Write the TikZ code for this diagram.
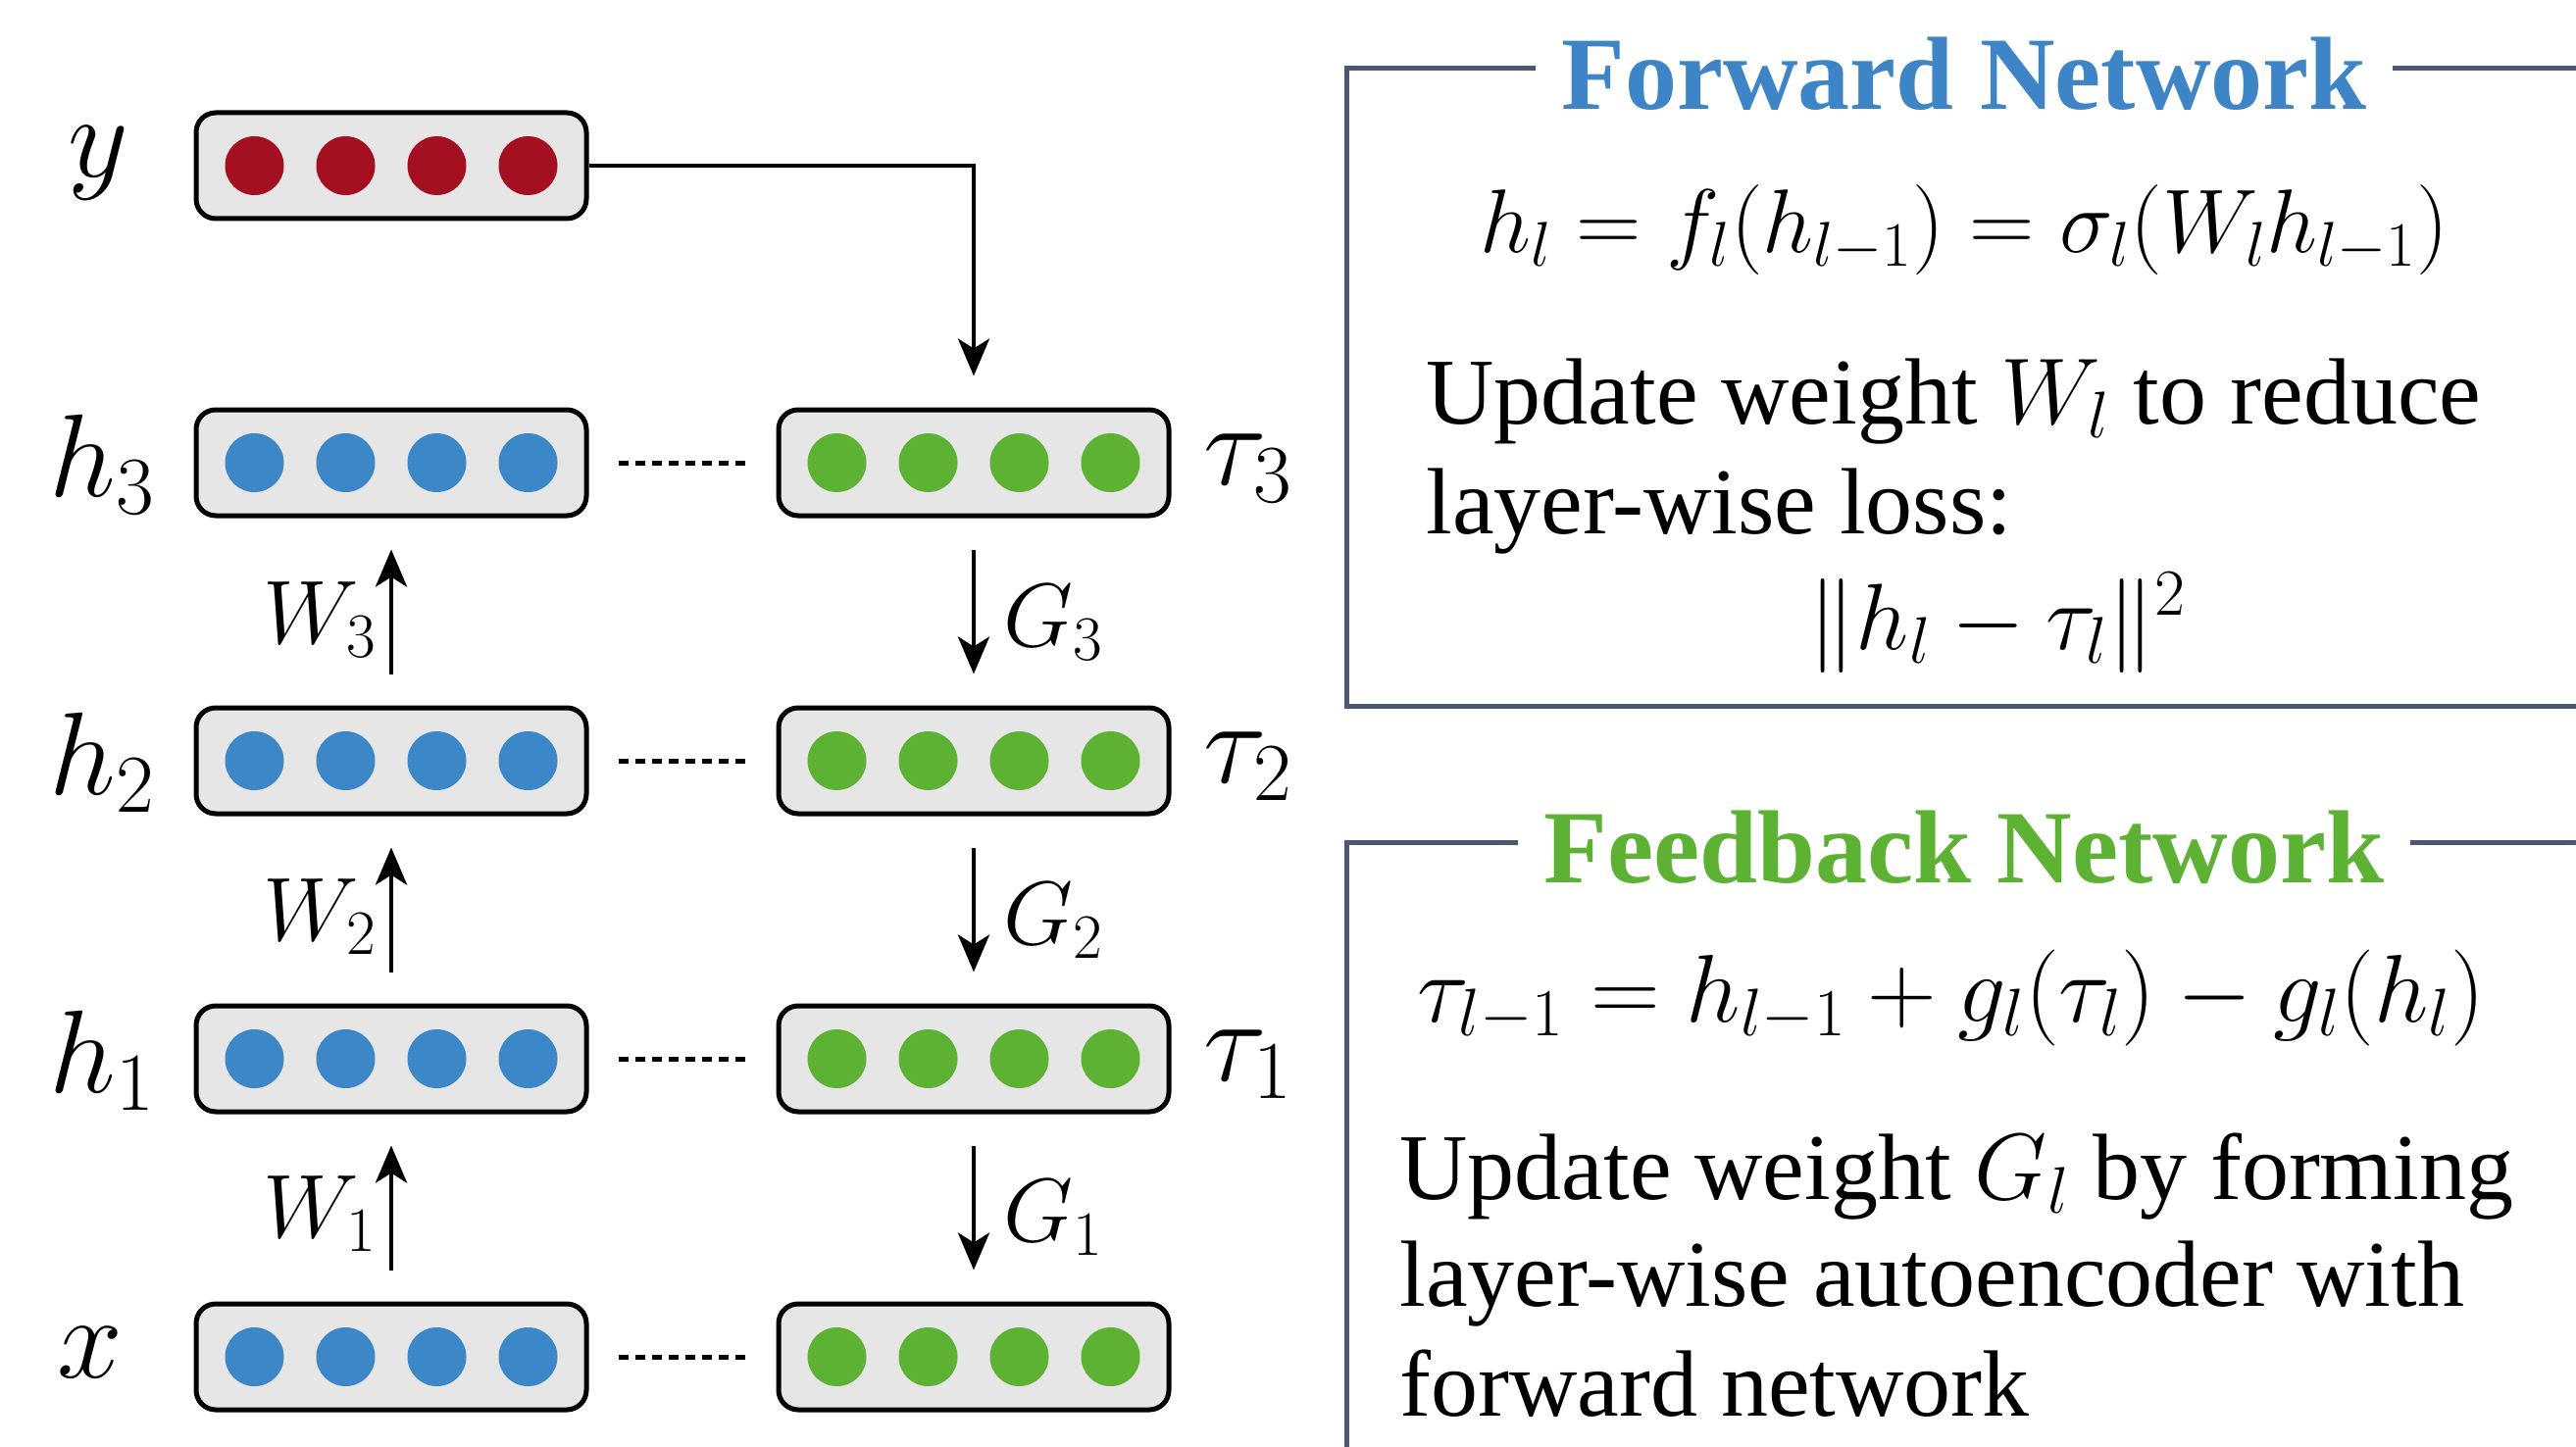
\RequirePackage{fix-cm}
\documentclass[tikz,border=0pt]{standalone}
\usepackage{fontspec}
\setmainfont{Liberation Serif}
\usetikzlibrary{arrows.meta,calc}
\definecolor{dotred}{HTML}{A50F22}
\definecolor{dotblue}{HTML}{3C87C8}
\definecolor{dotgreen}{HTML}{5DB234}
\definecolor{boxgray}{HTML}{E6E6E6}
\definecolor{framecol}{HTML}{4A5873}
\definecolor{titleblue}{HTML}{3D85C6}
\definecolor{titlegreen}{HTML}{5DB233}
\tikzset{
  layerbox/.style={rectangle, rounded corners=10pt, draw=black, line width=2.5pt, fill=boxgray,
    minimum width=199pt, minimum height=54pt, inner sep=0pt},
  unit/.style={circle, minimum size=30pt, inner sep=0pt, fill=#1},
  lab/.style={inner sep=0pt, font=\fontsize{60}{72}\selectfont},
  wlab/.style={inner sep=0pt, font=\fontsize{46}{56}\selectfont},
  arr/.style={line width=2.4pt, -{Stealth[length=19pt,width=16pt,inset=5pt]}},
  dotline/.style={line width=2.5pt, dash pattern=on 5pt off 3.5pt, shorten <=15pt, shorten >=15pt},
  frame/.style={draw=framecol, line width=2.5pt},
  ttl/.style={inner xsep=13pt, inner ysep=0pt, font=\fontsize{53}{64}\selectfont\bfseries},
  txtA/.style={inner sep=0pt, font=\fontsize{48}{58}\selectfont},
  mathA/.style={inner sep=0pt, font=\fontsize{46}{56}\selectfont},
  mathB/.style={inner sep=0pt, font=\fontsize{49}{58}\selectfont}
}
\begin{document}
\begin{tikzpicture}[x=0.5pt,y=-0.5pt]
\useasboundingbox (0,0) rectangle (2627,1476);
\fill[white] (0,0) rectangle (2627,1476);

% layer boxes
\node[layerbox] (yL) at (399,169) {};
\foreach \n/\yy in {h3/472, h2/776, h1/1080, x/1384} {
  \node[layerbox] (\n L) at (399,\yy) {};
  \node[layerbox] (\n R) at (993,\yy) {};
}
% units
\foreach \i/\dx in {1/-139.5, 2/-46.5, 3/46.5, 4/139.5} {
  \node[unit=dotred] (yL-\i) at ($(yL.center)+(\dx,0)$) {};
  \foreach \n in {h3,h2,h1,x} {
    \node[unit=dotblue] (\n L-\i) at ($(\n L.center)+(\dx,0)$) {};
    \node[unit=dotgreen] (\n R-\i) at ($(\n R.center)+(\dx,0)$) {};
  }
}

% left labels
\node[lab] (ly) at (100,166) {$y$};
\node[lab] (lh3) at (104,474) {$h_3$};
\node[lab] (lh2) at (104,778) {$h_2$};
\node[lab] (lh1) at (104,1082) {$h_1$};
\node[lab] (lx) at (92,1380) {$x$};
% right labels
\node[lab] (lt3) at (1273,478) {$\tau_3$};
\node[lab] (lt2) at (1273,782) {$\tau_2$};
\node[lab] (lt1) at (1273,1086) {$\tau_1$};

% dotted connectors
\foreach \n in {h3,h2,h1,x} {
  \draw[dotline] (\n L.east) -- (\n R.west);
}

% forward arrows
\draw[arr, shorten <=16pt, shorten >=16pt] (h2L.north) -- (h3L.south);
\draw[arr, shorten <=16pt, shorten >=16pt] (h1L.north) -- (h2L.south);
\draw[arr, shorten <=16pt, shorten >=16pt] (xL.north) -- (h1L.south);
\node[wlab] (w3) at (326,632) {$W_3$};
\node[wlab] (w2) at (326,935) {$W_2$};
\node[wlab] (w1) at (326,1238) {$W_1$};

% feedback arrows
\draw[arr, shorten <=16pt, shorten >=16pt] (h3R.south) -- (h2R.north);
\draw[arr, shorten <=16pt, shorten >=16pt] (h2R.south) -- (h1R.north);
\draw[arr, shorten <=16pt, shorten >=16pt] (h1R.south) -- (xR.north);
\node[wlab] (g3) at (1074,635) {$G_3$};
\node[wlab] (g2) at (1074,939) {$G_2$};
\node[wlab] (g1) at (1074,1242) {$G_1$};

% target connector
\draw[arr, shorten >=16pt] (yL.east) -| (h3R.north);

% Forward network panel
\node[ttl, text=titleblue] (ftitle) at (2003,75) {Forward Network};
\coordinate (fTL) at (1373,70);
\coordinate (fBL) at (1373,720);
\coordinate (fBR) at (2627,720);
\coordinate (fTR) at (2627,70);
\draw[frame] (ftitle.west |- fTL) -- (fTL) -- (fBL) -- (fBR);
\draw[frame] (ftitle.east |- fTR) -- (fTR);
\node[mathA, anchor=base] (feq) at (2003,258) {$h_l = f_l(h_{l-1}) = \sigma_l(W_l h_{l-1})$};
\node[txtA, anchor=base west] (ft1) at (1454,432) {Update weight $W_l$ to reduce};
\node[txtA, anchor=base west] (ft2) at (1454,544) {layer-wise loss:};
\node[txtA, anchor=base] (floss) at (2037,662) {$\|h_l - \tau_l\|^2$};

% Feedback network panel
\node[ttl, text=titlegreen] (btitle) at (2003,864) {Feedback Network};
\coordinate (bTL) at (1373,859);
\coordinate (bBL) at (1373,1480);
\coordinate (bTR) at (2627,859);
\draw[frame] (btitle.west |- bTL) -- (bTL) -- (bBL);
\draw[frame] (btitle.east |- bTR) -- (bTR);
\node[mathB, anchor=base] (beq) at (1990,1042) {$\tau_{l-1} = h_{l-1} + g_l(\tau_l) - g_l(h_l)$};
\node[txtA, anchor=base west] (bt1) at (1427,1223) {Update weight $G_l$ by forming};
\node[txtA, anchor=base west] (bt2) at (1427,1332) {layer-wise autoencoder with};
\node[txtA, anchor=base west] (bt3) at (1427,1444) {forward network};
\end{tikzpicture}
\end{document}
